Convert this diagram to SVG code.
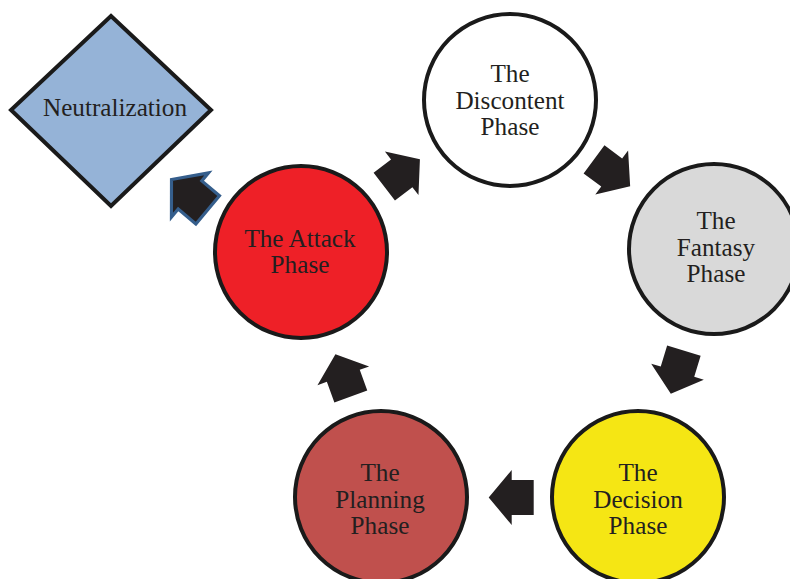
<svg xmlns="http://www.w3.org/2000/svg" width="790" height="579" viewBox="0 0 790 579">
<style>
.node{stroke:#1a1a1a;stroke-width:4}
.t{font-family:"Liberation Serif","Times New Roman",serif;font-size:25.2px;fill:#231f20;text-anchor:middle}
.arr{fill:#231f20}
</style>
<defs>
<polygon id="ar" points="-22,-17.5 0,-17.5 0,-27.5 23,0 0,27.5 0,17.5 -22,17.5"/>
</defs>
<rect width="790" height="579" fill="#ffffff"/>
<g id="neutralization">
<polygon class="node" points="111,16 211,110 111,206 11,110" fill="#95b3d7"/>
<text class="t" x="115" y="116">Neutralization</text>
</g>
<g id="discontent">
<circle class="node" cx="510" cy="100" r="86" fill="#ffffff"/>
<text class="t" x="510" y="82">The</text>
<text class="t" x="510" y="108.5">Discontent</text>
<text class="t" x="510" y="135">Phase</text>
</g>
<g id="fantasy">
<circle class="node" cx="714" cy="249" r="85" fill="#d9d9d9"/>
<text class="t" x="716" y="229">The</text>
<text class="t" x="716" y="255.5">Fantasy</text>
<text class="t" x="716" y="282">Phase</text>
</g>
<g id="decision">
<circle class="node" cx="638" cy="497" r="86" fill="#f5e614"/>
<text class="t" x="638" y="481">The</text>
<text class="t" x="638" y="507.5">Decision</text>
<text class="t" x="638" y="534">Phase</text>
</g>
<g id="planning">
<circle class="node" cx="381" cy="497" r="86" fill="#c0504d"/>
<text class="t" x="380" y="481">The</text>
<text class="t" x="380" y="507.5">Planning</text>
<text class="t" x="380" y="534">Phase</text>
</g>
<g id="attack">
<circle class="node" cx="301" cy="252" r="86" fill="#ee2027"/>
<text class="t" x="300" y="247">The Attack</text>
<text class="t" x="300" y="273">Phase</text>
</g>
<g id="connectors">
<use href="#ar" class="arr" transform="translate(401.7,173.3) rotate(-37.6)"/>
<use href="#ar" class="arr" transform="translate(611.7,172.5) rotate(36.6)"/>
<use href="#ar" class="arr" transform="translate(677.5,371.7) rotate(106.9)"/>
<use href="#ar" class="arr" transform="translate(511.7,497.5) rotate(180)"/>
<use href="#ar" class="arr" transform="translate(343.3,375.8) rotate(-110)"/>
<use href="#ar" class="arr" transform="translate(190,195) rotate(-140) scale(1.05)" stroke="#355e8c" stroke-width="3" stroke-linejoin="miter"/>
</g>
</svg>
